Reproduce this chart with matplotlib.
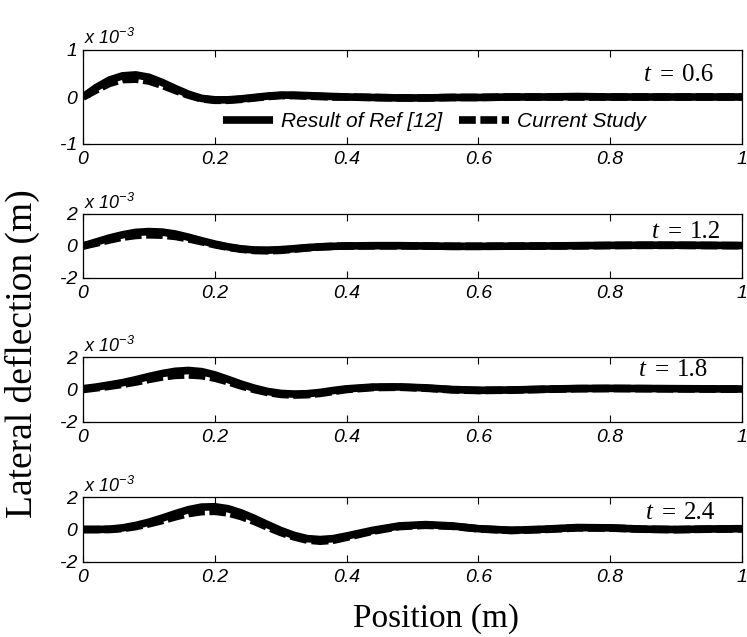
import matplotlib.pyplot as plt

plt.rcParams['mathtext.fontset'] = 'custom'
plt.rcParams['mathtext.rm'] = 'Liberation Sans:italic'
plt.rcParams['mathtext.it'] = 'Liberation Sans:italic'

# Position along the beam (m)
x = [0, .02, .04, .06, .08, .10, .12, .14, .16, .18, .20, .22, .24, .26, .28,
     .30, .32, .34, .36, .38, .40, .44, .48, .52, .56, .60, .65, .70, .75,
     .80, .85, .90, .95, 1.0]

times = ['0.6', '1.2', '1.8', '2.4']

# Lateral deflection, in units of 1e-3 m
ref_06 = [0.0, 0.2, 0.36, 0.45, 0.47, 0.42, 0.31, 0.18, 0.06, -0.03, -0.06,
          -0.06, -0.04, -0.01, 0.02, 0.04, 0.04, 0.03, 0.02, 0.01, 0.0, -0.01,
          -0.02, -0.02, -0.01, -0.01, 0.0, 0.0, 0.01, 0.0, 0.0, 0.0, 0.0, 0.0]
cur_06 = [0.0, 0.15, 0.29, 0.37, 0.38, 0.34, 0.25, 0.14, 0.04, -0.04, -0.07,
          -0.07, -0.05, -0.02, 0.01, 0.03, 0.03, 0.02, 0.01, 0.0, 0.0, -0.01,
          -0.02, -0.02, -0.01, -0.01, 0.0, 0.0, 0.0, 0.0, 0.0, 0.0, 0.0, 0.0]

ref_12 = [0.0, 0.25, 0.5, 0.7, 0.85, 0.9, 0.87, 0.75, 0.55, 0.33, 0.12, -0.05,
          -0.18, -0.25, -0.26, -0.23, -0.17, -0.1, -0.05, -0.02, 0.0, 0.02,
          0.02, 0.0, -0.02, -0.02, -0.01, 0.0, 0.02, 0.04, 0.05, 0.05, 0.04, 0.03]
cur_12 = [0.0, 0.18, 0.38, 0.55, 0.66, 0.7, 0.68, 0.6, 0.45, 0.27, 0.08, -0.08,
          -0.2, -0.28, -0.3, -0.27, -0.2, -0.12, -0.06, -0.02, 0.0, 0.01,
          0.01, 0.0, -0.02, -0.02, -0.01, 0.0, 0.01, 0.03, 0.04, 0.04, 0.03, 0.02]

ref_18 = [0.05, 0.15, 0.28, 0.42, 0.6, 0.8, 0.98, 1.12, 1.17, 1.1, 0.9, 0.62,
          0.33, 0.08, -0.12, -0.24, -0.28, -0.26, -0.18, -0.06, 0.04, 0.15,
          0.16, 0.1, 0.0, -0.05, -0.03, 0.02, 0.06, 0.07, 0.06, 0.05, 0.04, 0.03]
cur_18 = [0.0, 0.1, 0.2, 0.32, 0.46, 0.62, 0.77, 0.87, 0.9, 0.85, 0.7, 0.48,
          0.22, 0.0, -0.18, -0.3, -0.34, -0.32, -0.24, -0.12, 0.0, 0.12,
          0.14, 0.08, -0.02, -0.06, -0.04, 0.01, 0.05, 0.06, 0.05, 0.04, 0.03, 0.02]

ref_24 = [0.0, 0.0, 0.02, 0.1, 0.25, 0.45, 0.7, 0.97, 1.22, 1.38, 1.4, 1.28,
          1.02, 0.68, 0.3, -0.06, -0.36, -0.56, -0.62, -0.56, -0.4, -0.05,
          0.22, 0.3, 0.22, 0.05, -0.05, 0.02, 0.12, 0.1, 0.02, 0.0, 0.03, 0.05]
cur_24 = [0.0, 0.0, 0.0, 0.06, 0.18, 0.35, 0.55, 0.78, 0.98, 1.1, 1.12, 1.02,
          0.8, 0.5, 0.15, -0.18, -0.45, -0.65, -0.72, -0.66, -0.48, -0.1,
          0.18, 0.26, 0.2, 0.04, -0.06, 0.0, 0.1, 0.09, 0.02, -0.01, 0.02, 0.04]

ref = [ref_06, ref_12, ref_18, ref_24]
cur = [cur_06, cur_12, cur_18, cur_24]
ylims = [1, 2, 2, 2]

W, H = 747, 637
boxes = [(50, 144), (214, 278), (357, 422), (497, 562)]  # top/bottom in px
left, right = 83, 742
# where the "t = ..." stamp sits: px below the top edge, right end in px
stamp_dy = [25, 18, 13, 16]
stamp_x = [713, 721, 708, 715]

fig = plt.figure(figsize=(W / 100, H / 100), dpi=100)
tick_font = dict(family='Liberation Sans', style='italic', size=14)
serif = dict(family='Liberation Serif', size=18)

for i in range(4):
    top, bot = boxes[i]
    ax = fig.add_axes([left / W, (H - bot) / H, (right - left) / W, (bot - top) / H])
    ax.plot(x, ref[i], color='black', lw=5.5, solid_capstyle='butt',
            label='Result of Ref [12]')
    ax.plot(x, cur[i], color='black', lw=5.5, dashes=(2.2, 0.6),
            label='Current Study')
    lim = ylims[i]
    ax.set_xlim(0, 1)
    ax.set_ylim(-lim, lim)
    ax.set_xticks([0, 0.2, 0.4, 0.6, 0.8, 1])
    ax.set_xticklabels(['0', '0.2', '0.4', '0.6', '0.8', '1'], **tick_font)
    ax.set_yticks([-lim, 0, lim])
    ax.set_yticklabels([str(-lim), '0', str(lim)], **tick_font)
    ax.tick_params(direction='in', length=5, width=0.8, top=True, right=False)
    ax.tick_params(axis='x', pad=5)
    ax.tick_params(axis='y', pad=4)
    for s in ax.spines.values():
        s.set_linewidth(0.9)

    # exponent label above the axes
    ax.text(0.002, 1.02, r'$x\ 10^{-3}$', transform=ax.transAxes, ha='left',
            va='bottom', size=13)

    # time stamp in upper right corner
    ypos = 1 - stamp_dy[i] / (bot - top)
    xpos = (stamp_x[i] - left) / (right - left)
    num = ax.text(xpos, ypos, times[i], transform=ax.transAxes,
                  ha='right', va='center', **serif)
    eq = ax.annotate('=', xy=(0, 0.5), xycoords=num, xytext=(-6, 0),
                     textcoords='offset points', ha='right', va='center',
                     **serif)
    ax.annotate('t', xy=(0, 0.5), xycoords=eq, xytext=(-6, 0),
                textcoords='offset points', ha='right', va='center',
                style='italic', **serif)

    if i == 0:
        ax.legend(loc='center', bbox_to_anchor=(0.533, 0.24), ncol=2,
                  frameon=False, handlelength=2.4, columnspacing=0.8,
                  handletextpad=0.4,
                  prop=dict(family='Liberation Sans', style='italic', size=15))

fig.text(22 / W, 1 - 354 / H, 'Lateral deflection (m)', rotation=90,
         ha='center', va='center', family='Liberation Serif', size=27)
fig.text(436 / W, 1 - 627 / H, 'Position (m)', ha='center',
         va='baseline', family='Liberation Serif', size=24)

fig.savefig('out.png', dpi=100)
